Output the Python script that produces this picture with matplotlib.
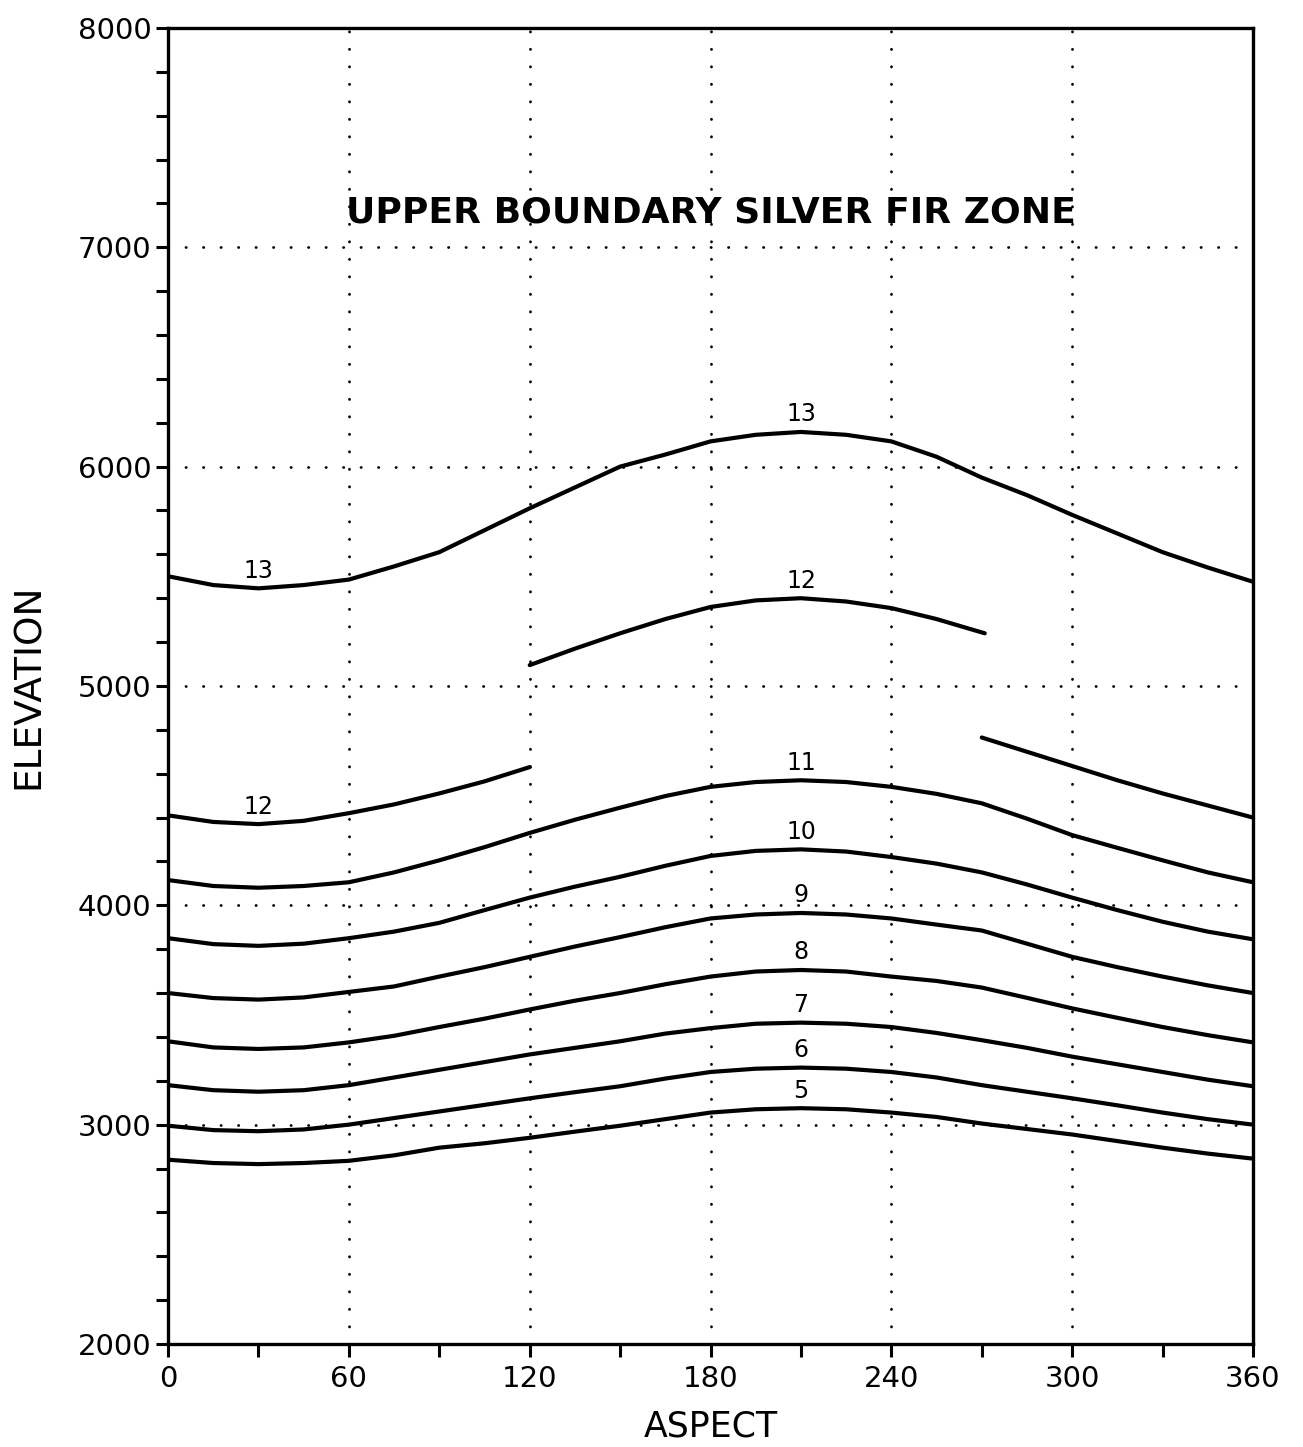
import matplotlib
matplotlib.use("Agg")
import matplotlib.pyplot as plt
from matplotlib.ticker import MultipleLocator

# values every 15 degrees of aspect (elevation in feet)
aspect = [0, 15, 30, 45, 60, 75, 90, 105, 120, 135, 150, 165, 180,
          195, 210, 225, 240, 255, 270, 285, 300, 315, 330, 345, 360]

curve5 = [2840, 2825, 2820, 2825, 2835, 2860, 2895, 2915, 2940, 2968, 2995, 3025, 3055,
          3070, 3075, 3070, 3055, 3035, 3005, 2980, 2955, 2925, 2895, 2868, 2845]
curve6 = [2995, 2975, 2970, 2978, 3000, 3030, 3060, 3090, 3120, 3148, 3175, 3210, 3240,
          3255, 3260, 3255, 3240, 3215, 3180, 3150, 3120, 3088, 3055, 3025, 3000]
curve7 = [3180, 3157, 3150, 3157, 3180, 3215, 3250, 3285, 3320, 3350, 3380, 3415, 3440,
          3460, 3465, 3460, 3445, 3418, 3385, 3350, 3310, 3275, 3240, 3205, 3175]
curve8 = [3380, 3352, 3345, 3352, 3375, 3405, 3445, 3483, 3525, 3565, 3600, 3640, 3675,
          3698, 3705, 3698, 3675, 3655, 3625, 3578, 3530, 3487, 3445, 3408, 3375]
curve9 = [3600, 3577, 3570, 3580, 3605, 3630, 3675, 3718, 3765, 3812, 3855, 3900, 3940,
          3958, 3965, 3958, 3940, 3912, 3885, 3825, 3765, 3718, 3675, 3635, 3600]
curve10 = [3850, 3823, 3815, 3825, 3850, 3880, 3920, 3978, 4035, 4085, 4130, 4180, 4225,
           4248, 4255, 4245, 4220, 4190, 4150, 4095, 4035, 3978, 3925, 3880, 3845]
curve11 = [4115, 4088, 4080, 4088, 4105, 4150, 4205, 4265, 4330, 4390, 4445, 4498, 4540,
           4562, 4570, 4562, 4540, 4508, 4465, 4395, 4320, 4262, 4205, 4150, 4105]
curve13 = [5500, 5460, 5445, 5460, 5485, 5545, 5610, 5710, 5810, 5905, 6000, 6055, 6115,
           6145, 6158, 6145, 6115, 6045, 5950, 5870, 5780, 5695, 5610, 5540, 5475]

# curve 12 is broken into three pieces
c12a_x = [0, 15, 30, 45, 60, 75, 90, 105, 120]
c12a_y = [4410, 4380, 4370, 4385, 4420, 4460, 4510, 4565, 4630]
c12b_x = [120, 135, 150, 165, 180, 195, 210, 225, 240, 255, 271]
c12b_y = [5095, 5170, 5240, 5305, 5360, 5390, 5400, 5385, 5355, 5305, 5240]
c12c_x = [270, 285, 300, 315, 330, 345, 360]
c12c_y = [4765, 4700, 4635, 4570, 4510, 4455, 4400]

full_curves = {"5": curve5, "6": curve6, "7": curve7, "8": curve8,
               "9": curve9, "10": curve10, "11": curve11, "13": curve13}

xticks = [0, 60, 120, 180, 240, 300, 360]
yticks = [2000, 3000, 4000, 5000, 6000, 7000, 8000]

fig = plt.figure(figsize=(13.03, 14.47), dpi=100)
ax = fig.add_axes([0.129, 0.0712, 0.8326, 0.9095])

# dotted grid
dots = dict(color="black", lw=2.0, linestyle=(0, (0.1, 6.2)),
            dash_capstyle="round", zorder=1)
for gx in xticks[1:-1]:
    ax.axvline(gx, **dots)
for gy in yticks[1:-1]:
    ax.axhline(gy, **dots)

line = dict(color="black", lw=3.0, solid_capstyle="round",
            solid_joinstyle="round", zorder=3)
for name, vals in full_curves.items():
    ax.plot(aspect, vals, **line)
ax.plot(c12a_x, c12a_y, **line)
ax.plot(c12b_x, c12b_y, **line)
ax.plot(c12c_x, c12c_y, **line)

# curve labels (right of the peak at 210, and near the dip at 30)
i_peak = aspect.index(210)
i_dip = aspect.index(30)
lab = dict(textcoords="offset points", ha="center", va="bottom", fontsize=17)
for name, vals in full_curves.items():
    ax.annotate(name, (aspect[i_peak], vals[i_peak]), xytext=(0, 4), **lab)
ax.annotate("12", (210, c12b_y[c12b_x.index(210)]), xytext=(0, 4), **lab)
ax.annotate("13", (30, curve13[i_dip]), xytext=(0, 4), **lab)
ax.annotate("12", (30, c12a_y[c12a_x.index(30)]), xytext=(0, 4), **lab)

ax.text(180, 7160, "UPPER BOUNDARY SILVER FIR ZONE", ha="center", va="center",
        fontsize=26, fontweight="bold")

ax.set_xlim(0, 360)
ax.set_ylim(2000, 8000)
ax.set_xticks(xticks)
ax.set_yticks(yticks)
ax.xaxis.set_minor_locator(MultipleLocator(30))
ax.yaxis.set_minor_locator(MultipleLocator(200))
ax.tick_params(which="both", direction="out", length=9, width=2.2,
               labelsize=21, top=False, right=False)
ax.tick_params(axis="x", pad=6)
ax.tick_params(axis="y", pad=3)
for s in ax.spines.values():
    s.set_linewidth(2.4)

ax.set_xlabel("ASPECT", fontsize=25, labelpad=12)
ax.set_ylabel("ELEVATION", fontsize=27, labelpad=22)

plt.savefig("out.png", dpi=100)
